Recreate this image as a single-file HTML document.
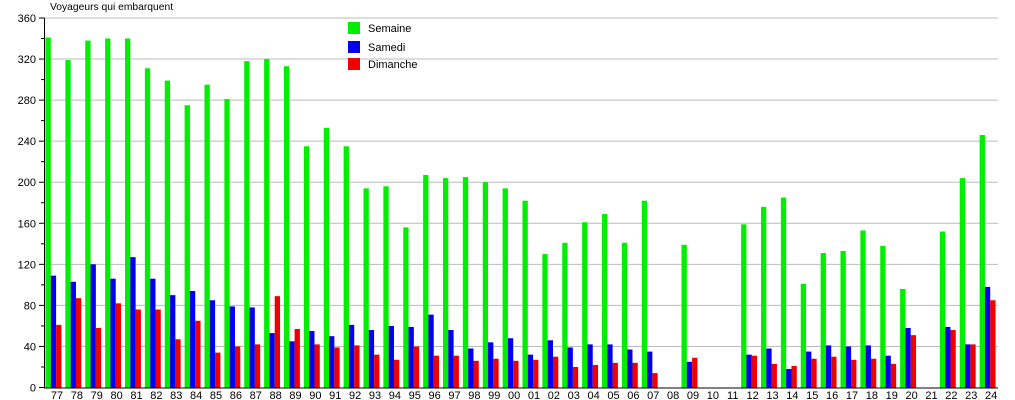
<!DOCTYPE html>
<html><head><meta charset="utf-8"><style>
body{margin:0;background:#fff;width:1015px;height:400px;overflow:hidden}
svg{display:block;font-family:"Liberation Sans",sans-serif}
</style></head><body>
<svg id="c" width="1015" height="400" xmlns="http://www.w3.org/2000/svg"></svg>
<script>
const S=[341,319,338,340,340,311,299,275,295,281,318,320,313,235,253,235,194,196,156,207,204,205,200,194,182,130,141,161,169,141,182,0,139,0,0,159,176,185,101,131,133,153,138,96,0,152,204,246];
const A=[109,103,120,106,127,106,90,94,85,79,78,53,45,55,50,61,56,60,59,71,56,38,44,48,32,46,39,42,42,37,35,0,25,0,0,32,38,18,35,41,40,41,31,58,0,59,42,98];
const D=[61,87,58,82,76,76,47,65,34,40,42,89,57,42,39,41,32,27,40,31,31,26,28,26,27,30,20,22,24,24,14,0,29,0,0,31,23,21,28,30,27,28,23,51,0,56,42,85];
const L=[];for(let y=77;y<=99;y++)L.push(String(y));for(let y=0;y<=24;y++)L.push(String(y).padStart(2,'0'));
const y0=387.5,k=369.5/360;let h='';
for(let v=40;v<=360;v+=40){const y=y0-v*k;h+=`<line x1="44" x2="998" y1="${y}" y2="${y}" stroke="#bbb" stroke-width="1"/>`;}
for(let v=0;v<=360;v+=20){const y=y0-v*k;h+=`<line x1="${v%40?41:39}" x2="44.5" y1="${y}" y2="${y}" stroke="#000"/>`;if(v%40==0)h+=`<text x="36" y="${y+4}" font-size="11" text-anchor="end">${v}</text>`;}
const w=5.3;
for(let i=0;i<48;i++){const x=45.5+i*19.875;
[[S,'#00ee00'],[A,'#0000ee'],[D,'#ee0000']].forEach(([d,c],j)=>{if(d[i]>0)h+=`<rect x="${x+j*w}" y="${y0-d[i]*k}" width="${w}" height="${d[i]*k}" fill="${c}"/>`;});
h+=`<text x="${x+11.5}" y="399" font-size="11" text-anchor="middle">${L[i]}</text>`;}
h+=`<line x1="44.5" x2="44.5" y1="18" y2="388" stroke="#000"/><line x1="44" x2="998" y1="388" y2="388" stroke="#000"/>`;
h+=`<text x="50" y="10" font-size="10.3">Voyageurs qui embarquent</text>`;
[['Semaine','#00ee00',22],['Samedi','#0000ee',41],['Dimanche','#ee0000',58]].forEach(([t,c,y])=>{h+=`<rect x="348" y="${y}" width="12" height="12" fill="${c}"/><text x="368" y="${y+10}" font-size="11">${t}</text>`;});
document.getElementById('c').innerHTML=h;
</script>
</body></html>
